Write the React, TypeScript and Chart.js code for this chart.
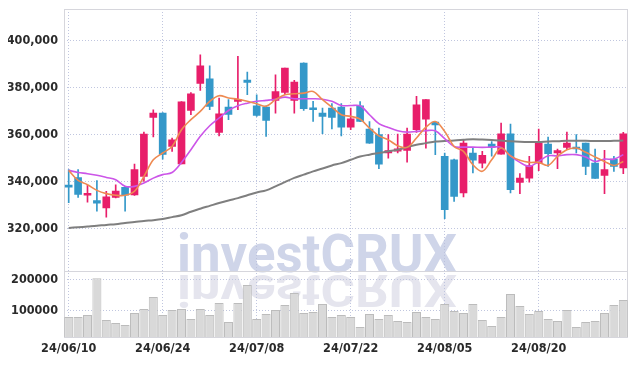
import React, { useEffect, useRef } from 'react';
import { Chart, registerables } from 'chart.js';

Chart.register(...registerables);

const dates = [
  '24/06/10', '24/06/11', '24/06/12', '24/06/13', '24/06/14', '24/06/17', '24/06/18', '24/06/19', '24/06/20', '24/06/21',
  '24/06/24', '24/06/25', '24/06/26', '24/06/27', '24/06/28', '24/07/01', '24/07/02', '24/07/03', '24/07/04', '24/07/05',
  '24/07/08', '24/07/09', '24/07/10', '24/07/11', '24/07/12', '24/07/15', '24/07/16', '24/07/17', '24/07/18', '24/07/19',
  '24/07/22', '24/07/23', '24/07/24', '24/07/25', '24/07/26', '24/07/29', '24/07/30', '24/07/31', '24/08/01', '24/08/02',
  '24/08/05', '24/08/06', '24/08/07', '24/08/08', '24/08/09', '24/08/12', '24/08/13', '24/08/14', '24/08/16', '24/08/19',
  '24/08/20', '24/08/21', '24/08/22', '24/08/23', '24/08/26', '24/08/27', '24/08/28', '24/08/29', '24/08/30', '24/09/02',
];

const opens = [
  338000, 341600, 334100, 331800, 328700, 333200, 337500, 334300, 342100, 367200,
  369100, 354900, 347500, 370200, 381700, 383700, 360900, 371600, 374100, 383100,
  372200, 371600, 374500, 377900, 374500, 390400, 370800, 369100, 371200, 371600,
  363100, 372200, 362300, 359900, 352100, 352900, 353200, 362000, 366500, 365300,
  350700, 349200, 335100, 352100, 347800, 355900, 351600, 360300, 339600, 341400,
  347800, 355900, 352100, 354500, 354200, 356300, 347800, 342600, 349500, 345700,
];
const highs = [
  345000, 345000, 338300, 340400, 335800, 338600, 337900, 347400, 361000, 370500,
  369300, 358400, 374000, 377800, 393900, 389200, 375500, 374800, 393200, 386500,
  376900, 372200, 385400, 388300, 383000, 390500, 374100, 371200, 373100, 373100,
  371200, 374000, 365500, 362700, 359900, 360200, 362700, 376200, 374800, 365500,
  352100, 349500, 357700, 354200, 352800, 357000, 364800, 364400, 343300, 350700,
  362300, 358900, 353800, 361000, 359900, 356300, 353800, 353200, 350700, 360900,
];
const lows = [
  331000, 333200, 331200, 327300, 324800, 333000, 327300, 334000, 340000, 358900,
  349500, 352800, 347500, 368400, 378700, 370500, 359400, 366300, 370500, 376900,
  367700, 359200, 369100, 376900, 369100, 370200, 365500, 360300, 362300, 359400,
  362000, 365400, 356200, 345400, 349900, 352100, 348200, 360900, 354200, 351400,
  324100, 331500, 333400, 343600, 345700, 350700, 351600, 335100, 334800, 339700,
  344600, 346400, 345400, 353500, 352100, 342900, 341300, 334800, 344300, 343300,
];
const closes = [
  337600, 334500, 334900, 330700, 333400, 335900, 334100, 345000, 360200, 369100,
  351500, 357700, 373900, 377300, 389200, 371900, 368800, 368500, 375000, 382100,
  368100, 366000, 378300, 388200, 382300, 371000, 370500, 367700, 367200, 363100,
  366700, 365500, 356300, 347300, 353100, 353900, 360200, 372600, 374800, 364100,
  328000, 333600, 356300, 349000, 351100, 354500, 360300, 336500, 341400, 346700,
  356300, 351800, 353100, 356300, 353800, 346400, 341300, 345000, 346400, 360300,
];
const volumes = [
  78500, 78500, 85000, 204000, 68800, 59100, 52700, 91400, 104300, 143000,
  85000, 101000, 104300, 72000, 104300, 85000, 123700, 62400, 123700, 181700,
  72000, 88200, 101000, 117200, 155900, 91400, 94600, 120400, 78500, 85000,
  78500, 46200, 88200, 72000, 85000, 65600, 62400, 94600, 78500, 72000,
  120400, 97800, 91400, 120400, 68800, 49500, 78500, 152700, 114000, 88200,
  97800, 72000, 65600, 101000, 46200, 62400, 65600, 91400, 117200, 133300,
];
const ma5 = [
  344700, 340400, 338600, 336200, 334800, 334100, 334100, 335800, 342100, 349200,
  352100, 354900, 362000, 366300, 369800, 374100, 376500, 375500, 375000, 374100,
  373100, 372000, 374800, 376900, 377300, 377600, 378300, 374800, 371600, 368400,
  367700, 366500, 362700, 359400, 357700, 355200, 354500, 358500, 363100, 365500,
  361300, 354900, 352800, 347100, 344300, 349200, 354200, 350900, 349000, 348100,
  348100, 346800, 350700, 353500, 354200, 352400, 350400, 348500, 346800, 348500,
];
const ma20 = [
  344700, 343800, 343300, 342600, 341700, 340700, 337900, 337900, 339300, 341400,
  342900, 343800, 348100, 353500, 359200, 363700, 367000, 370200, 372200, 373300,
  374100, 374500, 375000, 375900, 375200, 375200, 375200, 375000, 374100, 372300,
  372300, 372200, 368400, 364600, 363000, 361600, 361000, 361300, 361600, 361600,
  358200, 354900, 354600, 354600, 354500, 354600, 354500, 350900, 348100, 346400,
  348500, 350900, 350900, 351400, 351400, 350400, 348500, 349500, 349500, 351400,
];
const ma60 = [
  320200, 320500, 320800, 321100, 321500, 321800, 322300, 322700, 323200, 323500,
  324000, 324800, 325600, 327100, 328400, 329600, 330800, 331900, 332900, 334100,
  335300, 336200, 337900, 339700, 341500, 342900, 344300, 345500, 346800, 347800,
  349200, 350600, 351400, 352100, 352800, 353500, 354600, 355600, 356300, 357000,
  357200, 357400, 357700, 358000, 357800, 357600, 357400, 357100, 356900, 356800,
  356800, 357000, 357100, 357300, 357300, 357300, 357200, 357200, 357300, 357400,
];
const priceTicks = [320000, 340000, 360000, 380000, 400000];
const volumeTicks = [100000, 200000];
const labelEvery = 10;

const RED = '#e81e6a';
const BLUE = '#3498c9';
const GRID = 'rgba(185,192,220,0.9)';
const FRAME = 'rgb(214,214,220)';
const FONT = { family: '"DejaVu Sans Condensed", "Liberation Sans", sans-serif', size: 12.5, weight: 'bold' as const };

const noPad = (s: any) => {
  s.paddingTop = 0;
  s.paddingBottom = 0;
  s.paddingLeft = 0;
  s.paddingRight = 0;
};

const framePlugin = {
  id: 'frameAndMark',
  beforeDraw(chart: any) {
    const { ctx, chartArea } = chart;
    const y2 = chart.scales.y2;
    ctx.save();
    const x = chartArea.left + 113;
    const base = y2.top + 0.5;
    ctx.font = 'bold 53px Roboto, "DejaVu Sans", sans-serif';
    ctx.textAlign = 'left';
    ctx.textBaseline = 'alphabetic';
    ctx.fillStyle = 'rgb(207,213,233)';
    ctx.fillText('investCRUX', x, base, 280);
    ctx.translate(x, base + 3);
    ctx.scale(1, -0.83);
    ctx.fillStyle = 'rgb(229,229,238)';
    ctx.fillText('investCRUX', 0, 0, 280);
    ctx.restore();
  },
  beforeDatasetsDraw(chart: any) {
    const { ctx, chartArea } = chart;
    const y2 = chart.scales.y2;
    ctx.save();
    ctx.strokeStyle = FRAME;
    ctx.lineWidth = 1;
    ctx.strokeRect(chartArea.left + 0.5, chartArea.top + 0.5, chartArea.right - chartArea.left - 1, chartArea.bottom - chartArea.top);
    ctx.beginPath();
    ctx.moveTo(chartArea.left, Math.round(y2.top) + 0.5);
    ctx.lineTo(chartArea.right, Math.round(y2.top) + 0.5);
    ctx.stroke();
    ctx.restore();
  },
};

export default function App() {
  const ref = useRef<HTMLCanvasElement | null>(null);

  useEffect(() => {
    if (!ref.current) return;
    const colors = closes.map((c, i) => (c >= opens[i] ? RED : BLUE));
    const chart = new Chart(ref.current, {
      type: 'bar',
      data: {
        labels: dates,
        datasets: [
          {
            type: 'line', label: 'MA5', data: ma5, yAxisID: 'y', borderColor: '#ee8a52',
            borderWidth: 1.6, pointRadius: 0, tension: 0.35, order: 0,
          },
          {
            type: 'line', label: 'MA20', data: ma20, yAxisID: 'y', borderColor: '#cc55e8',
            borderWidth: 1.6, pointRadius: 0, tension: 0.35, order: 0,
          },
          {
            type: 'line', label: 'MA60', data: ma60, yAxisID: 'y', borderColor: '#7f7f7f',
            borderWidth: 2, pointRadius: 0, tension: 0.35, order: 0,
          },
          {
            type: 'bar', label: 'wick', data: lows.map((l, i) => [l, highs[i]]), yAxisID: 'y',
            backgroundColor: colors, barThickness: 1, grouped: false, order: 2,
          },
          {
            type: 'bar', label: 'body', data: opens.map((o, i) => [Math.min(o, closes[i]), Math.max(o, closes[i])]), yAxisID: 'y',
            backgroundColor: colors, barThickness: 7, minBarLength: 2, grouped: false, order: 1,
          },
          {
            type: 'bar', label: 'volume', data: volumes, yAxisID: 'y2',
            backgroundColor: 'rgb(217,217,217)', borderColor: 'rgb(188,188,188)', borderWidth: 1,
            barPercentage: 0.96, categoryPercentage: 1, grouped: false, order: 3,
          },
        ] as any,
      },
      options: {
        animation: false,
        responsive: false,
        layout: { padding: { top: 1, right: 1, left: 0, bottom: 0 } },
        plugins: { legend: { display: false }, tooltip: { enabled: false } },
        scales: {
          x: {
            offset: true,
            grid: {
              offset: false,
              drawTicks: false,
              color: (c: any) => (c.index % labelEvery === 0 ? GRID : 'transparent'),
            },
            border: { display: false, dash: [1, 2] },
            ticks: {
              autoSkip: false, maxRotation: 0, padding: 4, color: '#2a2a2a', font: FONT,
              callback: (_v: any, i: number) => (i % labelEvery === 0 ? dates[i] : ''),
            },
            afterFit: (s: any) => { s.height = 21; noPad(s); },
          },
          y: {
            position: 'left', stack: 'panes', stackWeight: 4, weight: 1, min: 301700, max: 413400,
            grid: { color: GRID, drawTicks: false },
            border: { display: false, dash: [1, 2] },
            ticks: { color: '#2a2a2a', font: FONT, padding: 6, callback: (v: any) => Number(v).toLocaleString('en-US') },
            afterBuildTicks: (s: any) => { s.ticks = priceTicks.map((v) => ({ value: v })); },
            afterFit: (s: any) => { s.width = 56; noPad(s); },
          },
          y2: {
            position: 'left', stack: 'panes', stackWeight: 1, weight: 0, min: 14000, max: 226000,
            grid: { color: GRID, drawTicks: false },
            border: { display: false, dash: [1, 2] },
            ticks: { color: '#2a2a2a', font: FONT, padding: 6, callback: (v: any) => String(v) },
            afterBuildTicks: (s: any) => { s.ticks = volumeTicks.map((v) => ({ value: v })); },
            afterFit: (s: any) => { s.width = 56; noPad(s); },
          },
        },
      } as any,
      plugins: [framePlugin],
    });
    return () => chart.destroy();
  }, []);

  return <canvas ref={ref} width={621} height={350} style={{ display: 'block' }} />;
}
